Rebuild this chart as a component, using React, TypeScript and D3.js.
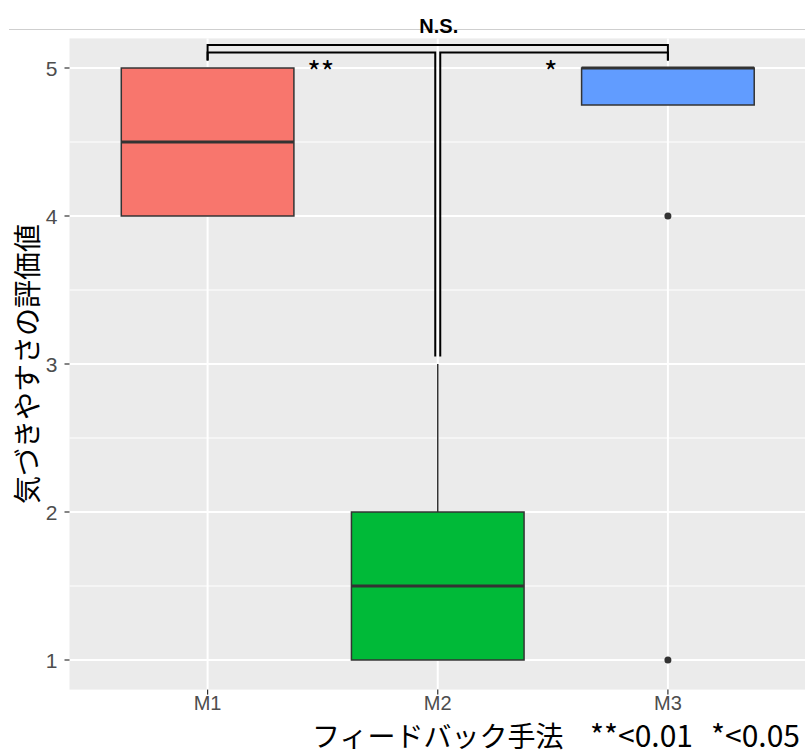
import React, { useEffect, useRef } from 'react';
import * as d3 from 'd3';

// box statistics per method
const categories = ['M1', 'M2', 'M3'];
const q1 = [4, 1, 4.75];
const medians = [4.5, 1.5, 5];
const q3 = [5, 2, 5];
const whiskerLow = [4, 1, 4.75];
const whiskerHigh = [5, 3, 5];
const outliers = [[], [], [4, 1]];
const fills = ['#F8766D', '#00BA38', '#619CFF'];

const yMajor = [1, 2, 3, 4, 5];
const yMinor = [1.5, 2.5, 3.5, 4.5];

// significance brackets (y in data units)
const comparisons = [
  { from: 'M1', to: 'M2', label: '**', y: 5.105, tipFrom: 5.05, tipTo: 3.05, labelY: 4.985 },
  { from: 'M2', to: 'M3', label: '*', y: 5.105, tipFrom: 3.05, tipTo: 5.05, labelY: 4.985 },
  { from: 'M1', to: 'M3', label: 'N.S.', y: 5.155, tipFrom: 5.05, tipTo: 5.05, labelY: 5.287 },
];

const xTitle = 'フィードバック手法';
const sigNotes = ['**<0.01', '*<0.05'];

const W = 805;
const H = 755;

const App = () => {
  const ref = useRef<SVGSVGElement>(null);

  useEffect(() => {
    const svg = d3.select(ref.current);
    svg.selectAll('*').remove();

    const panel = { left: 69.5, right: 806, top: 38.4, bottom: 689.6 };

    const x = d3.scalePoint<string>().domain(categories).range([panel.left, panel.right]).padding(0.6);
    const y = d3.scaleLinear().domain([0.8, 5.2]).range([panel.bottom, panel.top]);
    const step = x.step();
    const boxW = step * 0.75;

    // thin line above the panel
    svg.append('line')
      .attr('x1', 9).attr('x2', W)
      .attr('y1', 29.5).attr('y2', 29.5)
      .attr('stroke', '#cfcfcf').attr('stroke-width', 1.2);

    svg.append('rect')
      .attr('x', panel.left).attr('y', panel.top)
      .attr('width', panel.right - panel.left).attr('height', panel.bottom - panel.top)
      .attr('fill', '#EBEBEB');

    const grid = svg.append('g');
    grid.selectAll('.minor').data(yMinor).enter().append('line')
      .attr('x1', panel.left).attr('x2', panel.right)
      .attr('y1', (d) => y(d)).attr('y2', (d) => y(d))
      .attr('stroke', '#fff').attr('stroke-width', 1);
    grid.selectAll('.major').data(yMajor).enter().append('line')
      .attr('x1', panel.left).attr('x2', panel.right)
      .attr('y1', (d) => y(d)).attr('y2', (d) => y(d))
      .attr('stroke', '#fff').attr('stroke-width', 2);
    grid.selectAll('.xmajor').data(categories).enter().append('line')
      .attr('x1', (d) => x(d)!).attr('x2', (d) => x(d)!)
      .attr('y1', panel.top).attr('y2', panel.bottom)
      .attr('stroke', '#fff').attr('stroke-width', 2);

    // boxes
    const boxes = svg.append('g');
    categories.forEach((c, i) => {
      const cx = x(c)!;
      const g = boxes.append('g');
      g.append('line')
        .attr('x1', cx).attr('x2', cx)
        .attr('y1', y(q3[i])).attr('y2', y(whiskerHigh[i]))
        .attr('stroke', '#333').attr('stroke-width', 1.5);
      g.append('line')
        .attr('x1', cx).attr('x2', cx)
        .attr('y1', y(q1[i])).attr('y2', y(whiskerLow[i]))
        .attr('stroke', '#333').attr('stroke-width', 1.5);
      g.append('rect')
        .attr('x', cx - boxW / 2).attr('y', y(q3[i]))
        .attr('width', boxW).attr('height', y(q1[i]) - y(q3[i]))
        .attr('fill', fills[i]).attr('stroke', '#333').attr('stroke-width', 1.5);
      g.append('line')
        .attr('x1', cx - boxW / 2).attr('x2', cx + boxW / 2)
        .attr('y1', y(medians[i])).attr('y2', y(medians[i]))
        .attr('stroke', '#333').attr('stroke-width', 3);
      g.selectAll('circle').data(outliers[i]).enter().append('circle')
        .attr('cx', cx).attr('cy', (d) => y(d)).attr('r', 3.5)
        .attr('fill', '#333');
    });

    // brackets
    const br = svg.append('g');
    const nudge = 2.5;
    comparisons.forEach((cmp) => {
      let x1 = x(cmp.from)!;
      let x2 = x(cmp.to)!;
      if (cmp.tipTo < 4) x2 -= nudge;
      if (cmp.tipFrom < 4) x1 += nudge;
      const path = d3.path();
      path.moveTo(x1, y(cmp.tipFrom));
      path.lineTo(x1, y(cmp.y));
      path.lineTo(x2, y(cmp.y));
      path.lineTo(x2, y(cmp.tipTo));
      br.append('path')
        .attr('d', path.toString())
        .attr('fill', 'none').attr('stroke', '#000').attr('stroke-width', 2);
      const mid = (x(cmp.from)! + x(cmp.to)!) / 2;
      const isNS = cmp.label === 'N.S.';
      br.append('text')
        .attr('x', mid + (isNS ? 1 : -2))
        .attr('y', y(cmp.labelY))
        .attr('text-anchor', 'middle')
        .attr('dominant-baseline', 'central')
        .attr('font-family', isNS ? 'Liberation Sans, Arial, sans-serif' : 'Noto Sans CJK JP, sans-serif')
        .attr('font-weight', isNS ? 'bold' : 'normal')
        .attr('font-size', isNS ? 20 : 29)
        .attr('fill', '#000')
        .text(cmp.label);
    });

    // axes ticks
    const axes = svg.append('g');
    axes.selectAll('.yt').data(yMajor).enter().append('line')
      .attr('x1', panel.left - 5).attr('x2', panel.left)
      .attr('y1', (d) => y(d)).attr('y2', (d) => y(d))
      .attr('stroke', '#333').attr('stroke-width', 1.2);
    axes.selectAll('.yl').data(yMajor).enter().append('text')
      .attr('x', panel.left - 12).attr('y', (d) => y(d))
      .attr('text-anchor', 'end').attr('dominant-baseline', 'central')
      .attr('font-family', 'Liberation Sans, Arial, sans-serif')
      .attr('font-size', 21).attr('fill', '#4D4D4D')
      .text((d) => d);
    axes.selectAll('.xt').data(categories).enter().append('line')
      .attr('x1', (d) => x(d)!).attr('x2', (d) => x(d)!)
      .attr('y1', panel.bottom).attr('y2', panel.bottom + 5)
      .attr('stroke', '#333').attr('stroke-width', 1.2);
    axes.selectAll('.xl').data(categories).enter().append('text')
      .attr('x', (d) => x(d)!).attr('y', panel.bottom + 20)
      .attr('text-anchor', 'middle')
      .attr('font-family', 'Liberation Sans, Arial, sans-serif')
      .attr('font-size', 20).attr('fill', '#4D4D4D')
      .text((d) => d);

    svg.append('text')
      .attr('transform', `translate(26,${(panel.top + panel.bottom) / 2}) rotate(-90)`)
      .attr('text-anchor', 'middle').attr('dominant-baseline', 'central')
      .attr('font-family', 'Noto Sans CJK JP, sans-serif')
      .attr('font-size', 28).attr('fill', '#000')
      .text('気づきやすさの評価値');

    const title = svg.append('text')
      .attr('y', 747)
      .attr('font-family', 'Noto Sans CJK JP, sans-serif')
      .attr('fill', '#000');
    title.append('tspan').attr('x', 312).attr('font-size', 28).text(xTitle);
    title.append('tspan').attr('x', 590).attr('font-size', 30).text(sigNotes[0]);
    title.append('tspan').attr('x', 711).attr('font-size', 30).text(sigNotes[1]);
  }, []);

  return (
    <svg
      ref={ref}
      width={W}
      height={H}
      style={{ position: 'absolute', left: 0, top: 0, background: '#fff' }}
    />
  );
};

export default App;
